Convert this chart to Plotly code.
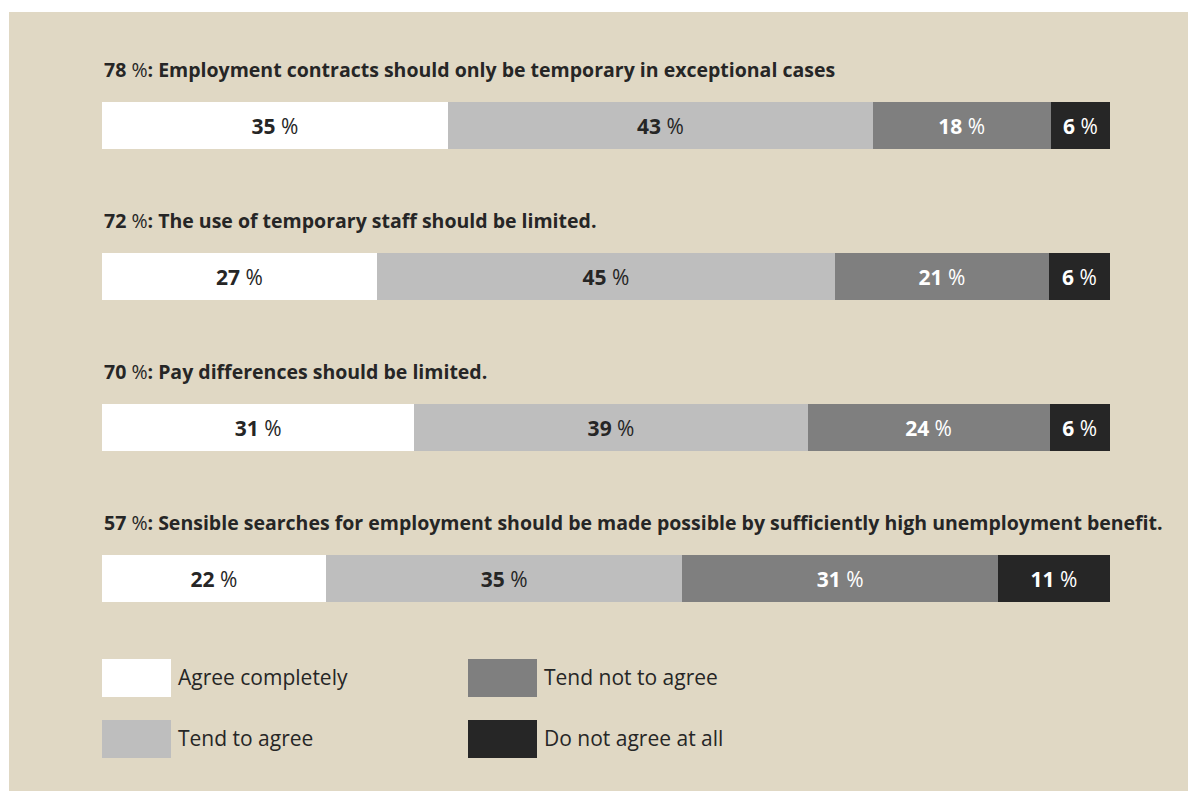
import plotly.graph_objects as go

W, H = 1188, 791

statements = [
    "Employment contracts should only be temporary in exceptional cases",
    "The use of temporary staff should be limited.",
    "Pay differences should be limited.",
    "Sensible searches for employment should be made possible by sufficiently high unemployment benefit.",
]
totals = [78, 72, 70, 57]
categories = ["Agree completely", "Tend to agree", "Tend not to agree", "Do not agree at all"]
agree_completely = [35, 27, 31, 22]
tend_to_agree = [43, 45, 39, 35]
tend_not_to_agree = [18, 21, 24, 31]
do_not_agree = [6, 6, 6, 11]

series = [agree_completely, tend_to_agree, tend_not_to_agree, do_not_agree]
colors = ["#ffffff", "#bebebe", "#7f7f7f", "#262626"]
text_colors = ["#262626", "#262626", "#ffffff", "#ffffff"]

FONT = "Open Sans"
BG = "#e0d8c4"
DARK = "#262626"

# layout geometry (pixels)
ML, MR, MT, MB = 102, 78, 50, 137
PW = W - ML - MR
PH = H - MT - MB

def px_x(px):
    return (px - ML) / PW

def px_y(py):
    return (H - MB - py) / PH

rows = list(range(len(statements)))

fig = go.Figure()
for name, vals, col, tcol in zip(categories, series, colors, text_colors):
    fig.add_trace(go.Bar(
        y=rows, x=vals, orientation="h", name=name,
        marker=dict(color=col, line=dict(width=0)),
        text=[str(v) for v in vals],
        texttemplate="<b>%{text}</b> %",
        textposition="inside", insidetextanchor="middle",
        constraintext="none",
        insidetextfont=dict(family=FONT, size=21, color=tcol),
        hoverinfo="skip", showlegend=False,
    ))

shapes = [dict(type="rect", xref="paper", yref="paper",
               x0=px_x(9), x1=px_x(W + 5), y0=px_y(12), y1=px_y(H + 5),
               fillcolor=BG, line=dict(width=0), layer="below")]

annotations = []
for i, (t, s) in enumerate(zip(totals, statements)):
    annotations.append(dict(
        xref="paper", yref="y", x=0, y=i, yshift=56,
        xanchor="left", yanchor="middle", showarrow=False,
        text=f"<b>{t}</b> %<b>: {s}</b>",
        font=dict(family=FONT, size=19.5, color=DARK),
    ))

# custom legend, 2 x 2
leg_pos = [(102, 659), (102, 720), (468, 659), (468, 720)]
for (lx, ly), name, col in zip(leg_pos, categories, colors):
    shapes.append(dict(type="rect", xref="paper", yref="paper",
                       x0=px_x(lx), x1=px_x(lx + 69), y0=px_y(ly), y1=px_y(ly + 38),
                       fillcolor=col, line=dict(width=0)))
    annotations.append(dict(
        xref="paper", yref="paper", x=px_x(lx + 74), y=px_y(ly + 18),
        xanchor="left", yanchor="middle", showarrow=False,
        text=name, font=dict(family=FONT, size=21, color=DARK),
    ))

fig.update_layout(
    width=W, height=H,
    margin=dict(l=ML, r=MR, t=MT, b=MB, pad=0),
    paper_bgcolor="#ffffff", plot_bgcolor="rgba(0,0,0,0)",
    barmode="stack", barnorm="percent", bargap=0.695,
    xaxis=dict(range=[0, 100], visible=False, fixedrange=True),
    yaxis=dict(range=[3.5, -0.5], visible=False, fixedrange=True),
    shapes=shapes, annotations=annotations,
    font=dict(family=FONT, color=DARK),
)

fig.write_html("out.html")
